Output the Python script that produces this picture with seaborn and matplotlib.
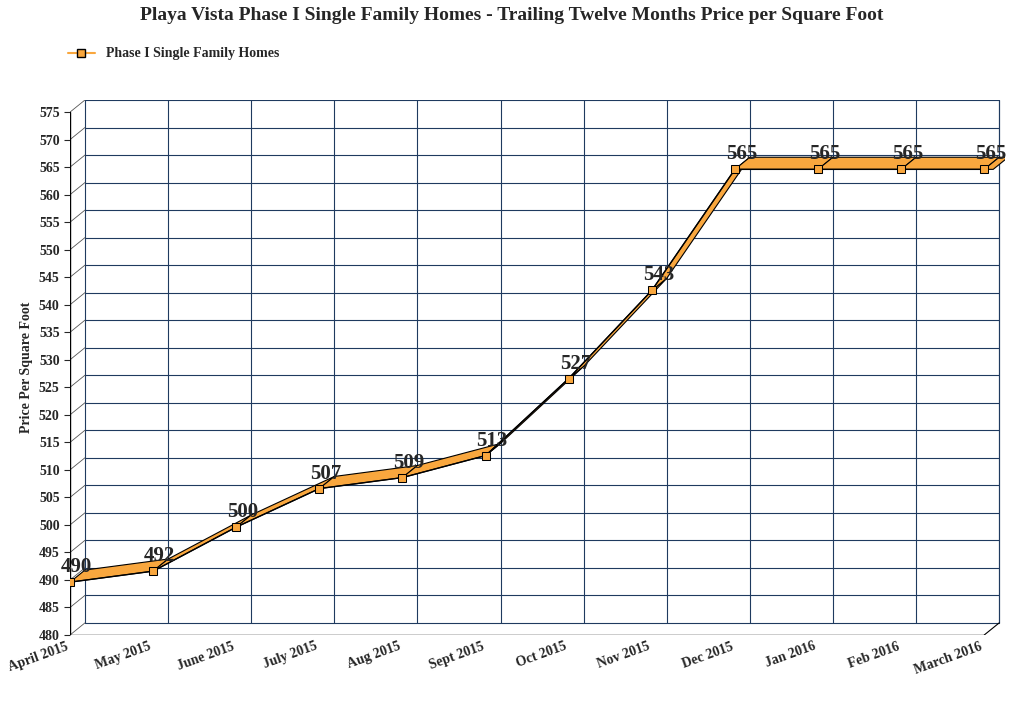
import matplotlib
matplotlib.use("Agg")
import matplotlib.pyplot as plt
import seaborn as sns
import numpy as np
import pandas as pd

months = ["April 2015","May 2015","June 2015","July 2015","Aug 2015","Sept 2015",
          "Oct 2015","Nov 2015","Dec 2015","Jan 2016","Feb 2016","March 2016"]
values = [490,492,500,507,509,513,527,543,565,565,565,565]

sns.set_style("white")
plt.rcParams['font.family'] = ['Liberation Serif', 'DejaVu Serif']
plt.rcParams['font.weight'] = 'bold'

fig = plt.figure(figsize=(10.24, 7.03), dpi=100)
ax = fig.add_axes([70/1024, (703-635)/703, 935/1024, 535/703])
x = np.arange(len(months))
y = np.array(values, dtype=float) - 0.4
dx, dy = 0.18, 2.2
top = 575 + dy

ax.set_xlim(0, 11.25)
ax.set_ylim(480, top)
for xi in x:
    ax.plot([xi+dx, xi+dx], [480+dy, top], color="#1f3a5f", lw=0.8, zorder=0)
ax.plot([11.18, 11.18], [480+dy, top], color="#1f3a5f", lw=0.8, zorder=0)
for yv in range(480, 576, 5):
    ax.plot([dx, 11.18], [yv+dy, yv+dy], color="#1f3a5f", lw=0.8, zorder=0)
    ax.plot([0, dx], [yv, yv+dy], color="#555555", lw=0.6, zorder=0)
ax.plot([0, 11], [480, 480], color="black", lw=1, zorder=1)
ax.plot([11, 11.18], [480, 480+dy], color="black", lw=0.8, zorder=1)
ax.plot([0, 0], [480, 575], color="black", lw=1, zorder=1)

for i in range(len(x)-1):
    xs = [x[i], x[i+1], x[i+1]+dx, x[i]+dx]
    ys = [y[i], y[i+1], y[i+1]+dy, y[i]+dy]
    ax.fill(xs, ys, facecolor="#F9A73E", edgecolor="black", lw=0.8, zorder=2)
ax.fill([x[-1], x[-1]+dx*0.6, x[-1]+dx*0.6+dx, x[-1]+dx],
        [y[-1], y[-1], y[-1]+dy, y[-1]+dy], facecolor="#F9A73E", edgecolor="black", lw=0.8, zorder=2)

df = pd.DataFrame({"x": x, "y": y})
sns.lineplot(data=df, x="x", y="y", ax=ax, color="black", lw=1, marker="s",
             markersize=6, markerfacecolor="#F9A73E", markeredgecolor="black", zorder=3)
for xi, yi, v in zip(x, y, values):
    ax.text(xi+0.08, yi+0.9, str(v), ha="center", va="bottom", fontsize=15, fontweight="bold", zorder=4)

ax.set_xticks(x)
ax.set_xticklabels(months, rotation=20, ha="right", fontsize=10, fontweight="bold")
ax.set_yticks(range(480, 576, 5))
ax.tick_params(axis="y", labelsize=10, length=4, left=True)
ax.tick_params(axis="x", length=0)
ax.set_xlabel("")
ax.set_ylabel("Price Per Square Foot", fontsize=10, fontweight="bold")
for s in ["top", "right", "left", "bottom"]:
    ax.spines[s].set_visible(False)

fig.suptitle("Playa Vista Phase I Single Family Homes - Trailing Twelve Months Price per Square Foot",
             fontsize=14, fontweight="bold", y=0.99)
from matplotlib.lines import Line2D
h = Line2D([0], [0], color="#F9A73E", marker="s", markerfacecolor="#F9A73E",
           markeredgecolor="black", lw=1.5)
fig.legend([h], ["Phase I Single Family Homes"], loc="upper left",
           bbox_to_anchor=(55/1024, 1-35/703), frameon=False,
           prop={"size": 10, "weight": "bold", "family": "Liberation Serif"})
fig.savefig("out.png", dpi=100)
